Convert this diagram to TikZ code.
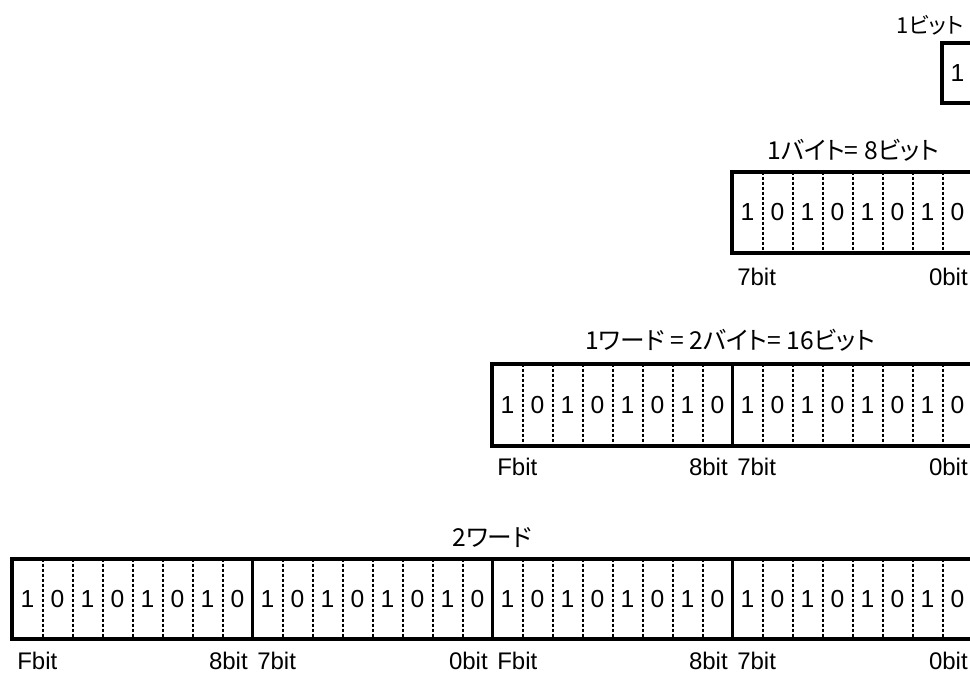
\documentclass[tikz,border=0pt]{standalone}
\usepackage{fontspec}
\setmainfont{Liberation Sans}
\newfontfamily\jp{Noto Sans CJK JP}[RawFeature=+palt]
\begin{document}
\begin{tikzpicture}[x=0.75pt,y=-0.75pt,
  cell/.style={inner sep=0pt, minimum width=22.5pt, font=\fontsize{18.5}{20}\selectfont, text=black},
  frame/.style={draw=black, line width=3pt},
  bytesep/.style={draw=black, line width=2.3pt},
  bitsep/.style={draw=black, line width=1.3pt, dash pattern=on 2.25pt off 1.5pt},
  ttl/.style={inner sep=0pt, font=\jp\fontsize{18.5}{20}\selectfont, text=black},
  lbl/.style={inner sep=0pt, font=\fontsize{18}{20}\selectfont, text=black}]
\useasboundingbox (0,0) rectangle (970,675);
\clip (0,0) rectangle (970,675);
\foreach \r/\n/\xl/\yt/\h in {1/1/942.5/43/60, 2/8/732.5/172/81, 3/16/492.5/364/82, 4/32/12.5/559/80}{
  \foreach \i in {1,...,\n}{
    \pgfmathsetmacro\cx{\xl+30*\i-15}
    \pgfmathsetmacro\cy{\yt+\h/2}
    \pgfmathtruncatemacro\d{mod(\i,2)}
    \node[cell, minimum height=\h*0.75pt] (r\r c\i) at (\cx,\cy) {\d};
  }
  \foreach \i in {1,...,\n}{
    \ifnum\i<\n
      \pgfmathtruncatemacro\m{mod(\i,8)}
      \ifnum\m=0
        \draw[bytesep] (r\r c\i.north east) -- (r\r c\i.south east);
      \else
        \draw[bitsep] (r\r c\i.north east) -- (r\r c\i.south east);
      \fi
    \fi
  }
  \draw[frame] (r\r c1.north west) rectangle (r\r c\n.south east);
}
% titles
\node[ttl, font=\jp\fontsize{16.5}{18}\selectfont] (t1) at (930,25) {1ビット};
\node[ttl] (t2) at (853,150) {1バイト= 8ビット};
\node[ttl] (t3) at (730,340) {1ワード = 2バイト= 16ビット};
\node[ttl] (t4) at (492,538) {2ワード};
% bit labels
\node[lbl, anchor=west] (l2a) at (737,277) {7bit};
\node[lbl, anchor=east] (l2b) at (968,277) {0bit};
\node[lbl, anchor=west] (l3a) at (497,467) {Fbit};
\node[lbl, anchor=east] (l3b) at (728,467) {8bit};
\node[lbl, anchor=west] (l3c) at (737,467) {7bit};
\node[lbl, anchor=east] (l3d) at (968,467) {0bit};
\node[lbl, anchor=west] (l4a) at (17,661) {Fbit};
\node[lbl, anchor=east] (l4b) at (248,661) {8bit};
\node[lbl, anchor=west] (l4c) at (257,661) {7bit};
\node[lbl, anchor=east] (l4d) at (488,661) {0bit};
\node[lbl, anchor=west] (l4e) at (497,661) {Fbit};
\node[lbl, anchor=east] (l4f) at (728,661) {8bit};
\node[lbl, anchor=west] (l4g) at (737,661) {7bit};
\node[lbl, anchor=east] (l4h) at (968,661) {0bit};
\end{tikzpicture}
\end{document}
